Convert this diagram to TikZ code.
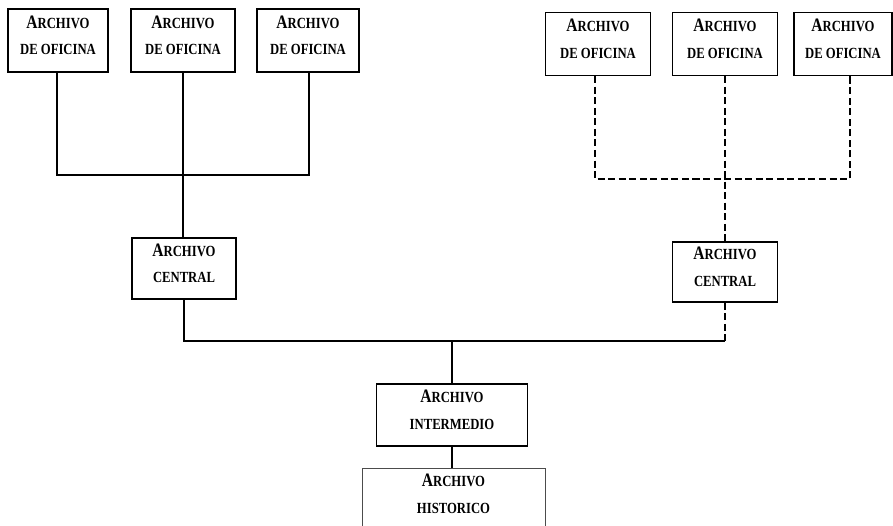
\documentclass[tikz,border=0pt]{standalone}
\usepackage{fontspec}
\setmainfont[FakeStretch=0.82]{Liberation Serif}
\newcommand{\pq}[1]{{\fontsize{8.8}{11}\selectfont #1}}
\newcommand{\archivo}[1]{{\fontsize{10.8}{11}\selectfont A}\pq{RCHIVO}\\[3pt]\pq{#1}\rule[-6pt]{0pt}{0pt}}
\tikzset{caja/.style={draw=black,line width=0.8pt,align=center,font=\bfseries,
                      minimum width=2cm,minimum height=1.26cm,inner sep=0pt},
         linea/.style={line width=1.1pt},
         punteada/.style={line width=1.1pt,dash pattern=on 4pt off 2pt}}
\begin{document}
\begin{tikzpicture}[x=0.02cm,y=-0.02cm]
		\useasboundingbox (0,0) rectangle (893,526);
		\clip (0,0) rectangle (893,526);
		% oficinas izquierda
		\node[caja] (of1) at (58,40.5) {\archivo{DE OFICINA}};
		\node[caja,minimum width=2.08cm] (of2) at (183,40.5) {\archivo{DE OFICINA}};
		\node[caja,minimum width=2.04cm] (of3) at (308,40.5) {\archivo{DE OFICINA}};
		% oficinas derecha
		\node[caja,minimum width=2.1cm] (of4) at (598,44) {\archivo{DE OFICINA}};
		\node[caja,minimum width=2.1cm] (of5) at (725,44) {\archivo{DE OFICINA}};
		\node[caja,minimum width=1.96cm] (of6) at (843,44) {\archivo{DE OFICINA}};
		% centrales
		\node[caja,minimum width=2.08cm,minimum height=1.22cm] (cen1) at (184,268.5) {\archivo{CENTRAL}};
		\node[caja,minimum width=2.1cm,minimum height=1.2cm] (cen2) at (725,272) {\archivo{CENTRAL}};
		% intermedio e historico
		\node[caja,minimum width=3.02cm,minimum height=1.24cm] (inter) at (452,415) {\archivo{INTERMEDIO}};
		\node[caja,draw=black!70,line width=0.5pt,minimum width=3.66cm,minimum height=0pt,
		      inner ysep=3.3pt,anchor=north] (hist) at (453.5,468) {\archivo{HISTORICO}\\[30pt]\mbox{}};
		\coordinate (u1) at (183,175);
		\coordinate (u2) at (725,179);
		\coordinate (u3) at (452,341);
		\draw[linea] (of1.south -| 57,0) |- (u1) -| (of3.south -| 309,0);
		\draw[linea] (of2) -- (cen1.north -| of2);
		\draw[punteada] (of4.south -| 595,0) |- (u2) -| (of6.south -| 850,0);
		\draw[punteada] (of5) -- (cen2);
		\draw[linea] (cen1) |- (u3);
		\draw[linea] (u3) -- (u3 -| cen2);
		\draw[punteada] (cen2) -- (cen2 |- u3);
		\draw[linea] (u3) -- (inter);
		\draw[linea] (inter) -- (inter |- hist.north);
\end{tikzpicture}
\end{document}
